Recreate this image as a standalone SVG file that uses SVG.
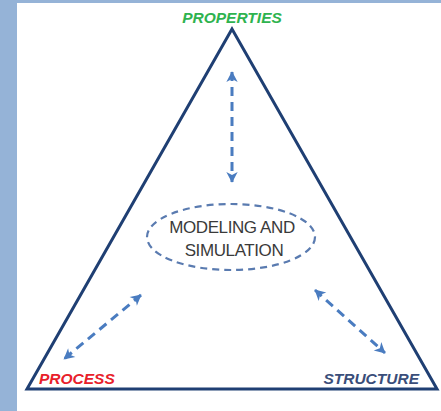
<svg xmlns="http://www.w3.org/2000/svg" width="441" height="411" viewBox="0 0 441 411">
<style>
.lbl{font-family:"Liberation Sans",Arial,sans-serif;font-weight:bold;font-style:italic;font-size:15.5px}
.mid{font-family:"Liberation Sans",Arial,sans-serif;font-size:17px;fill:#3a3a3a;letter-spacing:-0.4px}
.arr{stroke:#4a7cc0;stroke-width:3;fill:none;stroke-dasharray:9,6;marker-start:url(#ah);marker-end:url(#ah)}
</style>
<defs>
<marker id="ah" viewBox="0 0 10 10" refX="9" refY="5" markerWidth="4.2" markerHeight="4.2" orient="auto-start-reverse" markerUnits="strokeWidth">
<path d="M1,0.5 L9.5,5 L1,9.5 L3.5,5 Z" fill="#4a7cc0"/>
</marker>
</defs>
<rect x="0" y="0" width="441" height="411" fill="#ffffff"/>
<rect x="0" y="0" width="17" height="411" fill="#95b3d7"/>
<rect x="0" y="0" width="441" height="3" fill="#95b3d7"/>
<g id="triangle">
<polygon points="232,29 27,389 437,389" fill="none" stroke="#1f3f73" stroke-width="3" stroke-linejoin="miter"/>
</g>
<g id="properties"><text class="lbl" x="232" y="23" text-anchor="middle" fill="#2eb34f">PROPERTIES</text></g>
<g id="process"><text class="lbl" x="39" y="384" fill="#e8202a">PROCESS</text></g>
<g id="structure"><text class="lbl" x="419" y="384" text-anchor="end" fill="#3a4e7a">STRUCTURE</text></g>
<g id="modeling">
<ellipse cx="231" cy="237" rx="84" ry="33" fill="none" stroke="#5a7bb0" stroke-width="2.2" stroke-dasharray="7,5"/>
<text class="mid" x="232" y="233" text-anchor="middle">MODELING AND</text>
<text class="mid" x="234" y="256" text-anchor="middle">SIMULATION</text>
</g>
<g id="connectors">
<line class="arr" x1="232" y1="72" x2="232" y2="182"/>
<line class="arr" x1="141" y1="295" x2="64" y2="359"/>
<line class="arr" x1="315" y1="290" x2="385" y2="353"/>
</g>
</svg>
